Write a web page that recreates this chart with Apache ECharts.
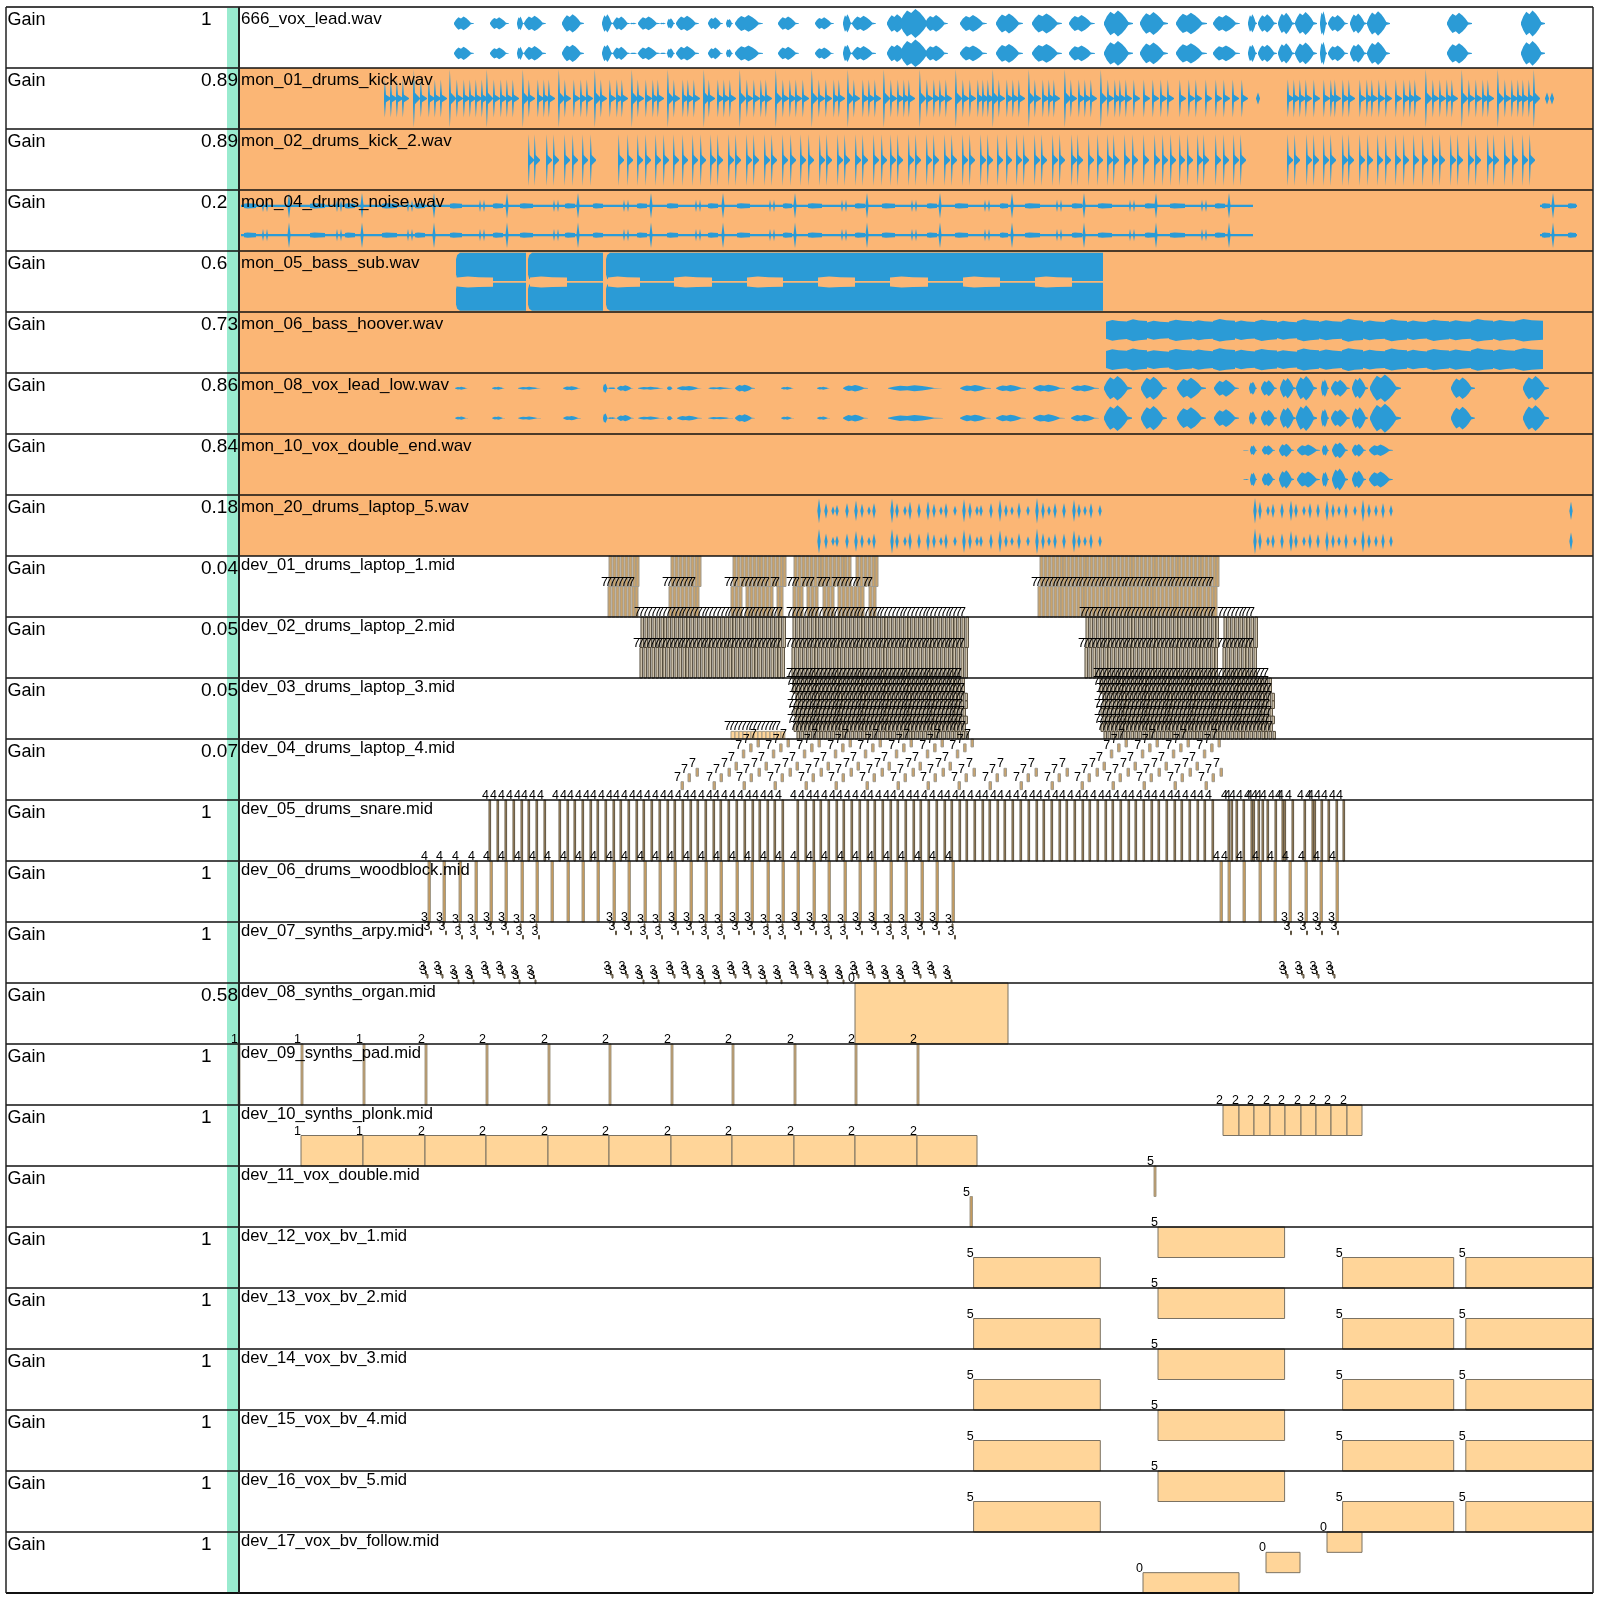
<!DOCTYPE html>
<html>
<head>
<meta charset="utf-8">
<title>Session tracks</title>
<script src="https://cdn.jsdelivr.net/npm/echarts@6/dist/echarts.min.js"></script>
<style>
	html, body { margin: 0; padding: 0; background: #fff; }
	#chart { width: 1601px; height: 1598px; }
</style>
</head>
<body>
<div id="chart"></div>
<script>
// track list
var trackNames = ['666_vox_lead.wav', 'mon_01_drums_kick.wav', 'mon_02_drums_kick_2.wav', 'mon_04_drums_noise.wav',
	'mon_05_bass_sub.wav', 'mon_06_bass_hoover.wav', 'mon_08_vox_lead_low.wav', 'mon_10_vox_double_end.wav',
	'mon_20_drums_laptop_5.wav', 'dev_01_drums_laptop_1.mid', 'dev_02_drums_laptop_2.mid', 'dev_03_drums_laptop_3.mid',
	'dev_04_drums_laptop_4.mid', 'dev_05_drums_snare.mid', 'dev_06_drums_woodblock.mid', 'dev_07_synths_arpy.mid',
	'dev_08_synths_organ.mid', 'dev_09_synths_pad.mid', 'dev_10_synths_plonk.mid', 'dev_11_vox_double.mid',
	'dev_12_vox_bv_1.mid', 'dev_13_vox_bv_2.mid', 'dev_14_vox_bv_3.mid', 'dev_15_vox_bv_4.mid', 'dev_16_vox_bv_5.mid',
	'dev_17_vox_bv_follow.mid'];
var gains = ['1', '0.89', '0.89', '0.2', '0.6', '0.73', '0.86', '0.84', '0.18', '0.04', '0.05', '0.05', '0.07',
	'1', '1', '1', '0.58', '1', '1', '', '1', '1', '1', '1', '1', '1'];
var monitorRows = [1, 2, 3, 4, 5, 6, 7, 8];

// audio clips: [start, end, level]
var voxLead = [[454,474,.45],[490,509,.4],[517,524,.45],[524,546,.5],[562,584,.6],[602,613,.6],[613,630,.45],[630,638,.05],
	[638,660,.45],[660,667,.05],[667,675,.35],[676,699,.5],[708,723,.4],[726,733,.3],[735,763,.55],[778,799,.45],[815,834,.4],
	[843,852,.6],[852,876,.5],[887,908,.6],[900,932,.95],[925,948,.55],[960,987,.55],[996,1023,.65],[1032,1062,.65],
	[1069,1095,.55],[1104,1133,.85],[1140,1168,.75],[1176,1207,.7],[1213,1240,.55],[1248,1257,.6],[1258,1277,.6],
	[1278,1295,.7],[1295,1317,.75],[1320,1327,.8],[1328,1348,.55],[1350,1367,.65],[1367,1390,.8],[1447,1472,.7],[1521,1545,.85]];
var voxLow = [[455,468,.1],[492,505,.1],[518,541,.1],[563,581,.14],[603,608,.32],[608,617,.06],[617,634,.2],[638,664,.1],
	[667,673,.14],[677,702,.16],[708,733,.08],[735,755,.25],[781,794,.1],[817,830,.1],[843,868,.22],[888,943,.2],
	[960,991,.22],[996,1026,.22],[1033,1065,.25],[1071,1099,.22],[1104,1132,.85],[1141,1167,.8],[1177,1206,.72],[1214,1239,.58],
	[1249,1257,.45],[1261,1277,.55],[1280,1296,.7],[1296,1317,.85],[1321,1329,.6],[1331,1350,.58],[1352,1368,.72],[1370,1401,.95],
	[1451,1475,.75],[1523,1549,.85]];
var voxDouble = [[1243,1250,.03],[1250,1257,.45],[1262,1275,.45],[1279,1294,.6],[1297,1320,.52],[1322,1329,.5],[1332,1348,.72],
	[1352,1366,.58],[1369,1393,.52]];
var bassClips = [[456,526],[528,603],[606,1103]];
var bassGaps = [[457,493],[530,567],[608,640],[674,712],[747,783],[818,855],[890,928],[963,1000],[1035,1072]];
var hooverClips = [[1106,1127,.68],[1127,1147,.72],[1147,1169,.62],[1169,1192,.7],[1192,1213,.66],[1213,1235,.74],[1235,1255,.64],
	[1255,1277,.7],[1277,1297,.62],[1297,1319,.72],[1319,1342,.66],[1342,1363,.75],[1363,1385,.65],[1385,1407,.72],[1407,1427,.64],
	[1427,1449,.7],[1449,1471,.66],[1471,1493,.74],[1493,1515,.68],[1515,1543,.74]];

// drum hits: start positions
var kickHits = [384,390,396,402,420,428,434,440,456,463,469,475,481,493,500,506,512,528,537,543,548,564,573,580,586,600,609,616,621,
	637,645,652,657,673,682,687,693,708,717,723,729,746,753,760,765,782,789,795,802,818,825,833,838,853,862,868,874,890,897,903,908,
	926,933,939,945,962,969,977,982,987,998,1006,1012,1018,1034,1042,1048,1053,1070,1078,1084,1090,1107,1114,1119,1125,1133,1143,1152,
	1160,1167,1179,1188,1195,1205,1215,1223,1232,1241,1287,1293,1299,1305,1313,1323,1330,1334,1342,1348,1359,1366,1371,1378,1385,1395,
	1403,1409,1414,1432,1439,1446,1451,1468,1475,1482,1487,1504,1511,1517,1522,1528];
var kickAccents = [413,449,486,522,558,594,631,667,703,739,775,811,847,883,919,955,992,1028,1064,1100,1425,1461,1497,1533];
var kickFaint = [1258,1547,1552];
var kick2Hits = [528,534,546,553,564,572,582,590,618,627,637,645,655,663,673,682,692,700,710,717,728,735,746,753,764,771,782,790,800,808,
	819,826,837,844,855,862,873,881,890,897,908,915,926,933,944,951,962,969,980,987,997,1006,1016,1023,1034,1041,1052,1059,1071,1077,
	1088,1097,1107,1113,1124,1132,1143,1154,1162,1170,1179,1187,1197,1203,1215,1223,1233,1240,1287,1294,1306,1313,1323,1330,1342,1348,
	1359,1367,1377,1385,1395,1403,1413,1422,1432,1439,1450,1457,1468,1475,1487,1493,1504,1512,1522,1529];
var noiseLines = [[241,1253],[1540,1577]];
var noiseAccents = [289,362,434,507,578,651,723,795,867,940,1012,1084,1156,1229,1553];
var noiseFlams = [263,267,337,341,408,412,480,484,554,558,624,628,696,700,770,774,842,846,912,916,985,989,1057,1061,1130,1134,1202,1206];
var noiseBlobs = [[244,256],[310,325],[345,355],[382,397],[415,425],[450,462],[493,503],[520,533],[565,575],[593,603],[637,647],[667,678],
	[708,718],[737,750],[783,792],[808,822],[855,865],[882,895],[927,937],[955,968],[1000,1008],[1025,1040],[1072,1082],[1098,1112],
	[1145,1155],[1170,1185],[1215,1225],[1542,1550],[1568,1576]];
var laptopHits = [[819,.95],[826,.6],[833,.35],[837,.45],[847,.6],[856,.8],[862,.55],[869,.35],[874,.6],[892,.95],[897,.6],[905,.4],[910,.7],
	[919,.6],[928,.75],[934,.55],[941,.35],[946,.6],[955,.4],[964,.9],[970,.65],[977,.4],[981,.45],[991,.6],[1000,.85],[1006,.5],[1012,.35],
	[1019,.65],[1028,.4],[1037,1],[1043,.65],[1049,.4],[1055,.6],[1064,.6],[1074,.85],[1079,.55],[1085,.4],[1091,.6],[1100,.45],[1255,1],
	[1260,.7],[1268,.4],[1273,.55],[1282,.6],[1291,.8],[1296,.55],[1304,.4],[1310,.6],[1318,.55],[1327,.8],[1333,.55],[1339,.4],[1346,.6],
	[1355,.4],[1363,.85],[1369,.55],[1376,.45],[1383,.6],[1391,.45],[1571,.7]];

// midi note starts
var dev01Top = [609,613,617,621,625,629,633,636,671,675,679,683,687,691,695,698,733,737,741,745,749,753,757,760,764,768,772,776,780,783,
	794,798,802,806,810,814,818,821,825,829,833,837,841,844,848,856,860,864,868,872,875,1040,1044,1048,1052,1056,1060,1063,1067,1071,1075,1079,
	1083,1086,1090,1094,1098,1102,1106,1109,1113,1117,1121,1125,1129,1132,1136,1140,1144,1148,1152,1155,1159,1163,1167,1171,1175,1178,1182,1186,
	1190,1194,1198,1201,1205,1209,1213,1216];
var dev01Bottom = [608,612,616,620,624,628,632,635,669,673,677,681,685,689,693,696,731,735,739,746,750,754,758,762,766,770,777,780,793,797,800,
	807,811,815,823,827,831,838,842,846,850,854,858,861,869,873,1038,1042,1046,1050,1054,1058,1061,1065,1069,1073,1077,1081,1084,1088,1092,1096,
	1100,1104,1107,1111,1115,1119,1123,1127,1130,1134,1138,1142,1146,1150,1153,1157,1161,1165,1169,1173,1176,1180,1184,1188,1192,1196,1199,1203,
	1207,1211,1214];
var dev02Notes = [641,645,649,653,657,661,664,668,672,676,680,684,687,691,695,699,703,707,710,714,718,722,726,730,733,737,741,745,749,753,756,760,
	764,768,772,776,779,783,793,797,801,805,809,813,816,820,824,828,832,836,839,843,847,851,855,859,862,866,870,874,878,882,885,889,893,897,901,905,
	908,912,916,920,924,928,931,935,939,943,947,951,954,958,962,966,1086,1090,1094,1098,1102,1106,1109,1113,1117,1121,1125,1129,1132,1136,1140,1144,
	1148,1152,1155,1159,1163,1167,1171,1175,1178,1182,1186,1190,1194,1198,1201,1205,1209,1213,1216,1224,1228,1232,1236,1240,1244,1247,1251,1255];
var dev03Notes = [793,797,801,805,809,813,816,820,824,828,832,836,839,843,847,851,855,859,862,866,870,874,878,882,885,889,893,897,901,905,908,912,
	916,920,924,928,931,935,939,943,947,951,954,958,962,1100,1104,1108,1112,1116,1120,1123,1127,1131,1135,1139,1143,1146,1150,1154,1158,1162,1166,
	1169,1173,1177,1181,1185,1189,1192,1196,1200,1204,1208,1212,1215,1219,1223,1227,1231,1235,1238,1242,1246,1250,1254,1258,1261,1265,1269];
var dev03Band = [731,735,739,743,747,751,754,758,762,766,770,774,777,781];
var dev03Shift = [0, 0, 3, 3, 1, 3, 1, 4];
var dev04Full = [757,787,818,849,879,910,941,971,1125,1156,1187,1218];
var dev04Lower = [725,1002,1033,1064,1095,1249];
var dev04Shift = [0, -7.4, -14.7, -22, -29, -37, -44];
var dev04Top = [0, .08, .18, .38, .48, .57, .7];
var dev05Notes = [489,497,505,513,521,528,536,544,559,567,574,582,590,597,605,613,620,628,636,643,651,659,667,674,682,690,697,705,713,720,728,736,744,
	752,759,767,774,782,797,805,813,820,828,836,843,851,859,867,874,882,890,897,905,913,920,928,936,944,951,959,966,974,982,989,997,1004,1012,1020,1028,
	1036,1043,1051,1059,1066,1074,1082,1089,1097,1105,1112,1120,1128,1135,1143,1151,1158,1166,1174,1181,1189,1197,1204,1212,1228,1231,1236,1243,1251,
	1253,1258,1262,1267,1275,1282,1284,1292,1304,1312,1314,1321,1328,1336,1343];
var dev06Notes = [428,443,459,475,490,505,521,536,551,567,582,597,613,628,644,659,674,690,705,720,736,751,767,782,797,813,828,844,859,874,890,905,921,
	936,952,1220,1228,1243,1259,1274,1289,1305,1320,1336];
var dev07High = [428,443,490,505,613,628,675,690,736,751,798,813,859,875,921,936,1288,1304,1319,1335];
var dev07Low = [459,474,520,536,644,659,705,721,767,782,828,844,890,905,952];
var dev07HighTop = [0, .148, .81, .86];
var dev07LowTop = [.03, .22, .87, .95];
var dev07Shift = [0, 2.5, -2.5, -1];
var padNotes = [238,301,363,425,486,548,609,671,732,794,855,917];
var padLabels = ['1','1','1','2','2','2','2','2','2','2','2','2'];
var plonkLow = [[301,363],[363,425],[425,486],[486,548],[548,609],[609,671],[671,732],[732,794],[794,855],[855,917],[917,977]];
var plonkLowLabels = ['1','1','2','2','2','2','2','2','2','2','2'];
var plonkHigh = [[1223,1239],[1239,1254],[1254,1270],[1270,1285],[1285,1301],[1301,1316],[1316,1331],[1331,1347],[1347,1362]];
var bvHigh = [[1158,1284.6]];
var bvLow = [[973.6,1100.3],[1342.6,1453.7],[1465.8,1593]];
var bvRows = [20, 21, 22, 23, 24];
var followNotes = [[1327,1362,0],[1266,1300,1],[1143,1239,2]];

// wave outlines, position along the clip and height
var envelopes = {
	blob: [[0, .1], [.1, .55], [.22, .9], [.35, .72], [.48, 1], [.62, .75], [.74, .45], [.84, .12], [1, .04]],
	flat: [[0, 1], [1, 1]],
	round: [[0, .55], [.3, .85], [1, 1]],
	bump: [[0, .82], [.3, 1], [.6, .9], [1, .84]],
	hit: [[0, .25], [.12, 1], [.28, .2], [.5, .14], [1, .02]],
	diamond: [[0, .05], [.5, 1], [1, .05]]
};
var BLUE = '#2b9bd6';
var ORANGE = '#fbb675';

var waves = [];
function addWave(t0, t1, center, level, env, color) {
	waves.push({ value: [t0, t1, center, level], env: env, color: color || BLUE });
}
function addClips(list, row, centers, scales, env) {
	for (var c = 0; c < centers.length; c++) {
		for (var i = 0; i < list.length; i++) {
			addWave(list[i][0], list[i][1], row + centers[c], list[i][2] * scales[c], env);
		}
	}
}
addClips(voxLead, 0, [.27, .76], [1, .95], 'blob');
addClips(voxLow, 6, [.25, .74], [.95, 1], 'blob');
addClips(voxDouble, 7, [.267, .745], [.72, 1], 'blob');
addClips(hooverClips, 5, [.3, .78], [1, 1], 'bump');
kickHits.forEach(function (t) { addWave(t, t + 7, 1.5, 1.25, 'hit'); });
kickAccents.forEach(function (t) { addWave(t, t + 7, 1.5, 1.9, 'hit'); });
kickFaint.forEach(function (t) { addWave(t - 2, t + 2, 1.5, .4, 'diamond'); });
kick2Hits.forEach(function (t) { addWave(t, t + 6, 2.51, 1.7, 'hit'); });
[.26, .74].forEach(function (c) {
	noiseLines.forEach(function (d) { addWave(d[0], d[1], 3 + c, .08, 'flat'); });
	noiseAccents.forEach(function (t) { addWave(t - 1.5, t + 1.5, 3 + c, .85, 'diamond'); });
	noiseFlams.forEach(function (t) { addWave(t - 1, t + 1, 3 + c, .4, 'diamond'); });
	noiseBlobs.forEach(function (d) { addWave(d[0], d[1], 3 + c, .17, 'bump'); });
});
[.26, .76].forEach(function (c) {
	laptopHits.forEach(function (d) { addWave(d[0] - 1.6, d[0] + 1.6, 8 + c, d[1] * .85, 'diamond'); });
});
[.26, .75].forEach(function (c) {
	bassClips.forEach(function (d) {
		addWave(d[0], d[0] + 4, 4 + c, .92, 'round');
		addWave(d[0] + 4, d[1], 4 + c, .92, 'flat');
	});
});
bassGaps.forEach(function (d) { addWave(d[0], d[1], 4.51, .36, 'bump', ORANGE); });

// note looks per track
var looks = {
	plain: { fill: '#ffd599', stroke: '#7b7263', lineWidth: 1 },
	band: { fill: '#ffd599', stroke: '#a89c86', lineWidth: 1 },
	tan: { fill: '#c9a36c', stroke: '#a09a8e', lineWidth: 1 },
	dark: { fill: '#d9cdb6', stroke: '#4f4636', lineWidth: 1 },
	bar: { fill: '#b89a6a', stroke: '#5f5442', lineWidth: 1 },
	post: { fill: '#c49a5e', stroke: '#a29a88', lineWidth: 1 }
};

// midi notes as rectangles with a small text beside them
var notes = [];
function addNote(t0, t1, row, top, height, label, look) {
	notes.push({ value: [t0, t1, row + top, row + top + height], label: label, look: look || looks.plain });
}
function addRun(list, width, row, top, height, label, shift, look) {
	list.forEach(function (t) { addNote(t + (shift || 0), t + (shift || 0) + width, row, top, height, label, look); });
}
addRun(dev01Top, 3, 9, 0, .5, '', 0, looks.tan);
addRun(dev01Bottom, 3, 9, .5, .5, '7', 0, looks.tan);
addRun(dev02Notes, 2.4, 10, 0, .5, '7', 0, looks.dark);
addRun(dev02Notes, 2.4, 10, .5, .5, '7', -1, looks.dark);
for (var lvl = 0; lvl < 8; lvl++) {
	addRun(dev03Notes, 2.4, 11, lvl * .125, .125, '7', dev03Shift[lvl], looks.dark);
}
addRun(dev03Band, 3.84, 11, .875, .125, '7', 0, looks.band);
dev04Shift.forEach(function (dx, k) {
	addRun(dev04Full, 2.5, 12, dev04Top[k], .13, '7', dx, looks.tan);
	if (k >= 4) addRun(dev04Lower, 2.5, 12, dev04Top[k], .13, '7', dx, looks.tan);
});
addRun(dev05Notes, 1.6, 13, 0, 1, '4', 0, looks.bar);
addRun(dev06Notes, 2.5, 14, 0, 1, '4', 0, looks.post);
dev07Shift.forEach(function (dx, k) {
	addRun(dev07High, 1, 15, dev07HighTop[k], .06, '3', dx, looks.bar);
	addRun(dev07Low, 1, 15, dev07LowTop[k], .06, '3', dx, looks.bar);
});
addNote(855, 1008, 16, 0, 1, '0');
padNotes.forEach(function (t, i) { addNote(t, t + 2, 17, 0, 1, padLabels[i], looks.post); });
plonkLow.forEach(function (d, i) { addNote(d[0], d[1], 18, .5, .5, plonkLowLabels[i]); });
plonkHigh.forEach(function (d) { addNote(d[0], d[1], 18, 0, .5, '2'); });
addNote(1154, 1156, 19, 0, .5, '5', looks.post);
addNote(970, 972.5, 19, .5, .5, '5', looks.post);
bvRows.forEach(function (row) {
	bvHigh.forEach(function (d) { addNote(d[0], d[1], row, 0, .5, '5'); });
	bvLow.forEach(function (d) { addNote(d[0], d[1], row, .5, .5, '5'); });
});
followNotes.forEach(function (d) { addNote(d[0], d[1], 25, d[2] / 3, 1 / 3, '0'); });

var rowIndex = trackNames.map(function (n, i) { return i; });
var FONT = '"Liberation Sans", Arial, sans-serif';

// x and y both go through the axes
function rectOf(api, t0, t1, y0, y1) {
	var a = api.coord([t0, y0]);
	var b = api.coord([t1, y1]);
	return { x: a[0], y: a[1], width: b[0] - a[0], height: b[1] - a[1] };
}
function textOf(api, t, y, text, font, align, base) {
	var p = api.coord([t, y]);
	return { type: 'text', style: { x: p[0], y: p[1], text: text, font: font, fill: '#000', align: align, verticalAlign: base } };
}

var option = {
	animation: false,
	grid: { left: 6, top: 7, width: 1587, height: 1586, containLabel: false },
	xAxis: { type: 'value', min: 6, max: 1593, show: false },
	yAxis: { type: 'value', min: 0, max: 26, inverse: true, show: false },
	series: [
		{
			// monitored track background
			type: 'custom', z: 1, clip: false, silent: true,
			data: monitorRows.map(function (r) { return [240, 1593, r, r + 1]; }),
			encode: { x: [0, 1], y: [2, 3] },
			renderItem: function (params, api) {
				return { type: 'rect', shape: rectOf(api, api.value(0), api.value(1), api.value(2), api.value(3)), style: { fill: ORANGE } };
			}
		},
		{
			// mint strip next to the gain values
			type: 'custom', z: 1, clip: false, silent: true,
			data: [[227, 239, 0, 26]],
			encode: { x: [0, 1], y: [2, 3] },
			renderItem: function (params, api) {
				return { type: 'rect', shape: rectOf(api, api.value(0), api.value(1), api.value(2), api.value(3)), style: { fill: '#99ebcf' } };
			}
		},
		{
			type: 'custom', z: 2, clip: false, silent: true,
			data: waves,
			encode: { x: [0, 1], y: 2 },
			renderItem: function (params, api) {
				var w = waves[params.dataIndex];
				var t0 = w.value[0], t1 = w.value[1], c = w.value[2], h = w.value[3] * .25;
				var env = envelopes[w.env];
				var pts = [];
				env.forEach(function (e) { pts.push(api.coord([t0 + (t1 - t0) * e[0], c - h * e[1]])); });
				env.slice().reverse().forEach(function (e) { pts.push(api.coord([t0 + (t1 - t0) * e[0], c + h * e[1]])); });
				return { type: 'polygon', shape: { points: pts }, style: { fill: w.color } };
			}
		},
		{
			type: 'custom', z: 3, clip: false, silent: true,
			data: notes,
			encode: { x: [0, 1], y: [2, 3] },
			renderItem: function (params, api) {
				return {
					type: 'rect',
					shape: rectOf(api, api.value(0), api.value(1), api.value(2), api.value(3)),
					style: notes[params.dataIndex].look
				};
			}
		},
		{
			// note labels stay on top of every note
			type: 'custom', z: 4, clip: false, silent: true,
			data: notes,
			encode: { x: 0, y: 2 },
			renderItem: function (params, api) {
				var n = notes[params.dataIndex];
				if (!n.label) return null;
				return textOf(api, n.value[0], n.value[2] + .035, n.label, '12.5px ' + FONT, 'right', 'bottom');
			}
		},
		{
			// row lines and the upright borders
			type: 'custom', z: 5, clip: false, silent: true,
			data: rowIndex.concat([26]).map(function (r) { return [r]; }),
			encode: { y: 0 },
			renderItem: function (params, api) {
				var r = api.value(0);
				var a = api.coord([6, r]), b = api.coord([1593, r]);
				return {
					type: 'line',
					shape: { x1: a[0], y1: a[1], x2: b[0], y2: b[1] },
					style: { stroke: r === 0 ? '#444' : '#111', lineWidth: r === 0 || r === 26 ? 2 : 1.5 }
				};
			}
		},
		{
			type: 'custom', z: 5, clip: false, silent: true,
			data: [[6, 1.5], [239, 2], [1593, 1.5]],
			encode: { x: 0 },
			renderItem: function (params, api) {
				var a = api.coord([api.value(0), 0]), b = api.coord([api.value(0), 26]);
				return {
					type: 'line',
					shape: { x1: a[0], y1: a[1], x2: b[0], y2: b[1] },
					style: { stroke: '#222', lineWidth: api.value(1) }
				};
			}
		},
		{
			// panel text and file names
			type: 'custom', z: 6, clip: false, silent: true,
			data: rowIndex.map(function (r) { return [r]; }),
			encode: { y: 0 },
			renderItem: function (params, api) {
				var r = api.value(0);
				var isMidi = trackNames[r].indexOf('.mid') > 0;
				return {
					type: 'group',
					children: [
						textOf(api, 7.5, r + .215, 'Gain', '18px ' + FONT, 'left', 'middle'),
						textOf(api, 201, r + .215, gains[r], '19px ' + FONT, 'left', 'middle'),
						textOf(api, 241, r + (isMidi ? .155 : .21), trackNames[r], (isMidi ? '16.6px ' : '17px ') + FONT, 'left', 'middle')
					]
				};
			}
		}
	]
};
var chart = echarts.init(document.getElementById('chart'), null, { renderer: 'canvas' });
chart.setOption(option);
</script>
</body>
</html>
